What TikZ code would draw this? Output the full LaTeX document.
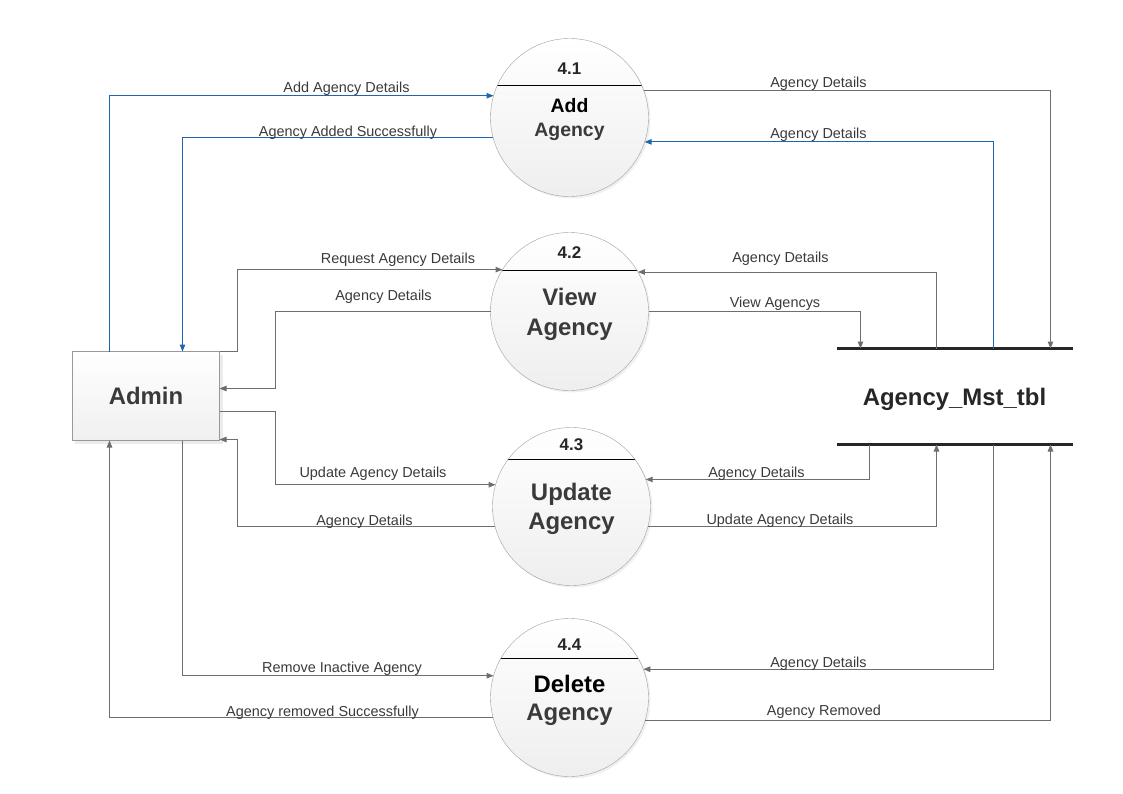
\documentclass[tikz,border=0pt]{standalone}
\usepackage{fontspec}
\setmainfont{Liberation Sans}
\usepackage{tikz}
\usetikzlibrary{arrows.meta,positioning,calc,shadows}
\definecolor{flowgray}{HTML}{6E6E6E}
\definecolor{flowblue}{HTML}{1F66B0}
\definecolor{txtgray}{HTML}{3A3A3A}

\begin{document}
\begin{tikzpicture}[
			x=1bp, y=-1bp, % pixel-like units, y pointing down
			proc/.style={circle, minimum size=158bp, inner sep=0pt, outer sep=0pt, draw=gray!75,
				top color=white, bottom color=gray!13, align=center, text=txtgray, text depth=0pt,
				drop shadow={opacity=0.12, shadow xshift=2bp, shadow yshift=-2bp},
				path picture={\draw[black, line width=1bp] ($(path picture bounding box.center)+(-90,-#1)$) -- ++(180,0);}},
			num/.style={font=\fontsize{17}{20}\selectfont\bfseries, text=black!85},
			ent/.style={rectangle, minimum width=147bp, minimum height=89bp, inner sep=0pt, outer sep=0pt,
				draw=gray!80, top color=white, bottom color=gray!12, text=txtgray,
				font=\fontsize{24}{28}\selectfont\bfseries,
				drop shadow={opacity=0.15, shadow xshift=3bp, shadow yshift=-3bp}},
			store/.style={minimum width=236bp, minimum height=96bp, inner sep=0pt, outer sep=0pt,
				text=black!85, font=\fontsize{24}{28}\selectfont\bfseries},
			storeline/.style={line width=3.5bp, black!85},
			flow/.style={draw=flowgray, line width=1bp, -{Triangle[length=7bp,width=5.5bp]}},
			bflow/.style={flow, draw=flowblue},
			lbl/.style={font=\fontsize{14.5}{17}\selectfont, text=txtgray, inner sep=0pt, anchor=base}]
		\useasboundingbox (-0.5,-0.5) rectangle (1122.5,793.5);

		% entity, store and processes
		\node[ent] (admin) at (145.5,395.5) {Admin};
		\node[store] (tbl) at (954,396) {};
		\node[store, anchor=base] (tbltext) at (954,405) {Agency\_Mst\_tbl};
		\draw[storeline] (tbl.north west) -- (tbl.north east);
		\draw[storeline] (tbl.south west) -- (tbl.south east);

		\node[proc=32, font=\fontsize{19.5}{24}\selectfont\bfseries] (p1) at (569,117) {\textcolor{black}{Add}\\Agency};
		\node[proc=41, font=\fontsize{24}{30}\selectfont\bfseries] (p2) at (569,311) {View\\Agency};
		\node[proc=47, font=\fontsize{24}{29}\selectfont\bfseries] (p3) at (571,506) {Update\\Agency};
		\node[proc=39, font=\fontsize{24}{28}\selectfont\bfseries] (p4) at (569,697) {\textcolor{black}{Delete}\\Agency};
		\node[num] (n1) at ([yshift=49bp]p1.center) {4.1};
		\node[num] (n2) at ([yshift=59bp]p2.center) {4.2};
		\node[num] (n3) at ([yshift=62bp]p3.center) {4.3};
		\node[num] (n4) at ([yshift=53bp]p4.center) {4.4};

		% flows of 4.1
		\draw[bflow] ([xshift=-36.5bp]admin.north) |- (p1.164);
		\draw[bflow] (p1.195) -| ([xshift=36.5bp]admin.north);
		\draw[flow] (p1.20) -| ([xshift=96bp]tbl.north);
		\draw[bflow] ([xshift=39bp]tbl.north) |- (p1.342);
		% flows of 4.2
		\draw[flow] (admin.north east) -- ([xshift=18bp]admin.north east) |- (p2.148);
		\draw[flow] (p2.180) -| ([xshift=56bp,yshift=7.5bp]admin.east) -- ([yshift=7.5bp]admin.east);
		\draw[flow] ([xshift=-18bp]tbl.north) |- (p2.30);
		\draw[flow] (p2.0) -| ([xshift=-94bp]tbl.north);
		% flows of 4.3
		\draw[flow] ([yshift=-15.5bp]admin.east) -- ([xshift=56bp,yshift=-15.5bp]admin.east) |- (p3.164);
		\draw[flow] (p3.195) -| ([xshift=18bp,yshift=1bp]admin.south east) -- ([yshift=1bp]admin.south east);
		\draw[flow] ([xshift=-85bp]tbl.south) |- (p3.20);
		\draw[flow] (p3.345) -| ([xshift=-18bp]tbl.south);
		% flows of 4.4
		\draw[flow] ([xshift=36.5bp]admin.south) |- (p4.164);
		\draw[flow] (p4.195) -| ([xshift=-36.5bp]admin.south);
		\draw[flow] ([xshift=39bp]tbl.south) |- (p4.21);
		\draw[flow] (p4.343) -| ([xshift=96bp]tbl.south);

		% labels
		\node[lbl] (l1)  at (346,92)    {Add Agency Details};
		\node[lbl] (l2)  at (347.5,136) {Agency Added Successfully};
		\node[lbl] (l3)  at (818,87)    {Agency Details};
		\node[lbl] (l4)  at (818,138)   {Agency Details};
		\node[lbl] (l5)  at (397.5,263) {Request Agency Details};
		\node[lbl] (l6)  at (383,300)   {Agency Details};
		\node[lbl] (l7)  at (780,262)   {Agency Details};
		\node[lbl] (l8)  at (774.5,307) {View Agencys};
		\node[lbl] (l9)  at (372.5,477) {Update Agency Details};
		\node[lbl] (l10) at (364,525)   {Agency Details};
		\node[lbl] (l11) at (756,477)   {Agency Details};
		\node[lbl] (l12) at (779.5,524) {Update Agency Details};
		\node[lbl] (l13) at (341.5,672) {Remove Inactive Agency};
		\node[lbl] (l14) at (322,716)   {Agency removed Successfully};
		\node[lbl] (l15) at (818,667)   {Agency Details};
		\node[lbl] (l16) at (823.5,715) {Agency Removed};
	\end{tikzpicture}
\end{document}
